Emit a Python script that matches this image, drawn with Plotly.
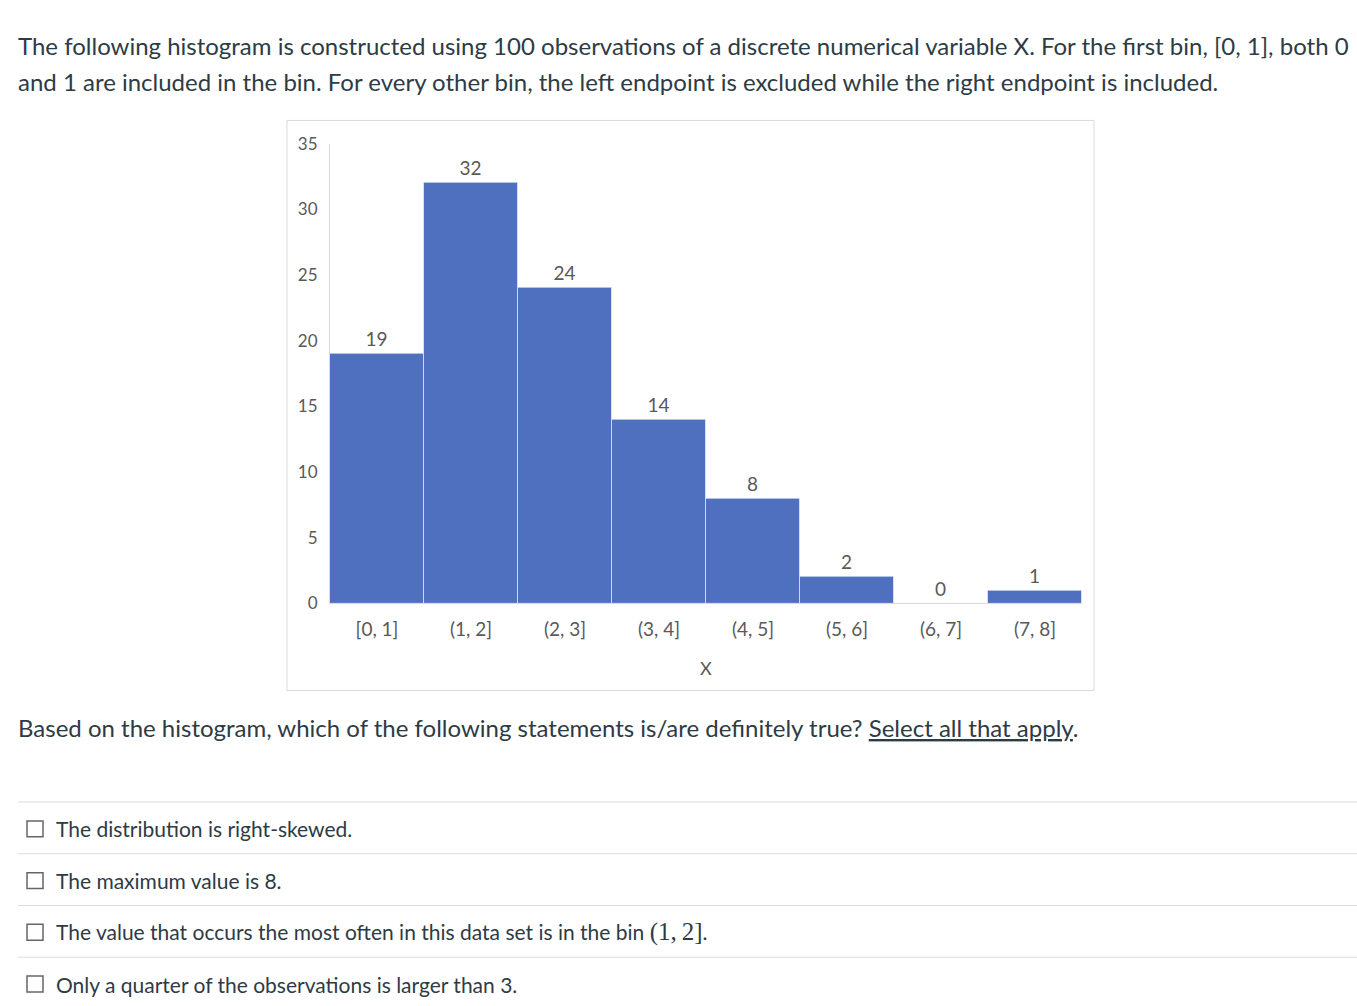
import plotly.graph_objects as go

# ---- data ----
bins = ["[0, 1]", "(1, 2]", "(2, 3]", "(3, 4]", "(4, 5]", "(5, 6]", "(6, 7]", "(7, 8]"]
counts = [19, 32, 24, 14, 8, 2, 0, 1]
y_ticks = [0, 5, 10, 15, 20, 25, 30, 35]

intro_lines = [
    "The following histogram is constructed using 100 observations of a discrete numerical variable X. For the first bin, [0, 1], both 0",
    "and 1 are included in the bin. For every other bin, the left endpoint is excluded while the right endpoint is included.",
]
question = "Based on the histogram, which of the following statements is/are definitely true? <u>Select all that apply</u>."
options = [
    "The distribution is right-skewed.",
    "The maximum value is 8.",
    "The value that occurs the most often in this data set is in the bin <span style=\"font-family:'Liberation Serif';font-size:25px\">(1,&#8201;2]</span>.",
    "Only a quarter of the observations is larger than 3.",
]

W, H = 1357, 1006
TOP, HE = 8, 990   # effective rendered offset/height of the figure
TXT = "#2D3B45"
CH = "#595959"


def px(x, y):
    return x / W, 1 - (y - TOP) / HE


fig = go.Figure()
fig.add_trace(go.Bar(
    x=bins, y=counts,
    marker=dict(color="#4E70BE", line=dict(color="rgba(255,255,255,0.55)", width=1)),
    text=[str(c) for c in counts], textposition="outside",
    textfont=dict(family="Lato", size=19, color=CH),
    cliponaxis=False, showlegend=False,
))

annotations = []
shapes = []

# intro text
for i, line in enumerate(intro_lines):
    x, y = px(16, 43 + 36 * i)
    annotations.append(dict(x=x, y=y, xref="paper", yref="paper", text=line, showarrow=False,
                            xanchor="left", yanchor="middle",
                            font=dict(family="Lato", size=24, color=TXT)))

# chart frame
x0, y0 = px(287, 691)
x1, y1 = px(1094, 118)
shapes.append(dict(type="rect", xref="paper", yref="paper", x0=x0, y0=y0, x1=x1, y1=y1,
                   line=dict(color="#D9D9D9", width=1), fillcolor="rgba(0,0,0,0)", layer="below"))

# x axis title
x, y = px(706, 668)
annotations.append(dict(x=x, y=y, xref="paper", yref="paper", text="X", showarrow=False,
                        xanchor="center", yanchor="middle",
                        font=dict(family="Lato", size=18, color=CH)))

# question
x, y = px(16, 728)
annotations.append(dict(x=x, y=y, xref="paper", yref="paper", text=question, showarrow=False,
                        xanchor="left", yanchor="middle",
                        font=dict(family="Lato", size=24, color=TXT)))

# options with separators and checkboxes
for i, opt in enumerate(options):
    sep_y = 803 + 52 * i
    a, b = px(18, sep_y)
    c, _ = px(1357, sep_y)
    shapes.append(dict(type="line", xref="paper", yref="paper", x0=a, y0=b, x1=c, y1=b,
                       line=dict(color="#DDDDDD", width=1)))
    cy = 830 + 52 * i
    bx0, by0 = px(27, cy + 8)
    bx1, by1 = px(43, cy - 8)
    shapes.append(dict(type="rect", xref="paper", yref="paper", x0=bx0, y0=by0, x1=bx1, y1=by1,
                       line=dict(color="#666666", width=1.5), fillcolor="white"))
    x, y = px(54, cy)
    annotations.append(dict(x=x, y=y, xref="paper", yref="paper", text=opt, showarrow=False,
                            xanchor="left", yanchor="middle",
                            font=dict(family="Lato", size=21, color=TXT)))

_, ybot = px(0, 603.5)
_, ytop = px(0, 141.5)
fig.update_layout(
    width=W, height=H, margin=dict(l=0, r=0, t=0, b=0),
    paper_bgcolor="white", plot_bgcolor="white",
    bargap=0,
    xaxis=dict(domain=[330 / W, 1082 / W], type="category", showline=True, linecolor="#D9D9D9",
               linewidth=1, showgrid=False, ticks="", ticklabelstandoff=9,
               tickfont=dict(family="Lato", size=19, color=CH), fixedrange=True),
    yaxis=dict(domain=[ybot, ytop], range=[0, 35], tickvals=y_ticks,
               showline=True, linecolor="#D9D9D9", linewidth=1, showgrid=False, zeroline=False,
               ticks="", ticklabelstandoff=8,
               tickfont=dict(family="Lato", size=17, color=CH), fixedrange=True),
    annotations=annotations, shapes=shapes,
)

fig.write_html("out.html")
